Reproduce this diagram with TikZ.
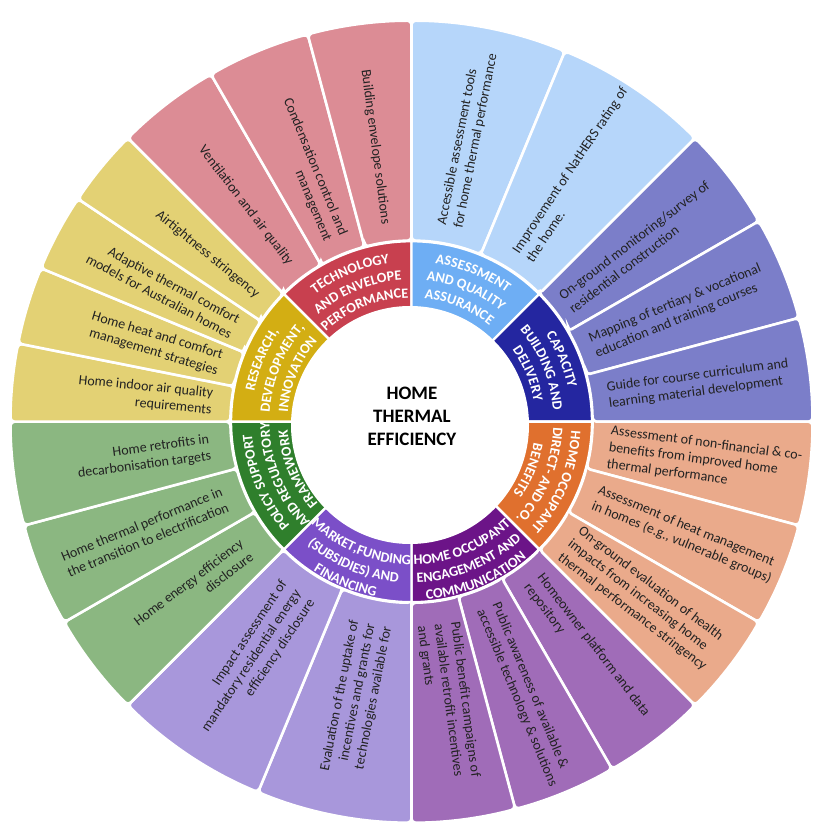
\documentclass[tikz,border=0pt]{standalone}
\usepackage{fontspec}
\setmainfont{Carlito}
\usetikzlibrary{decorations.text}

\definecolor{techR}{HTML}{C8404F}\definecolor{techO}{HTML}{DC8C95}
\definecolor{assR}{HTML}{6EAEF4}\definecolor{assO}{HTML}{B6D6FA}
\definecolor{capR}{HTML}{2426A0}\definecolor{capO}{HTML}{7B7EC9}
\definecolor{orR}{HTML}{E0702E}\definecolor{orO}{HTML}{EAAA8B}
\definecolor{engR}{HTML}{6C1488}\definecolor{engO}{HTML}{A06CB8}
\definecolor{mktR}{HTML}{7B4FC8}\definecolor{mktO}{HTML}{A897DB}
\definecolor{polR}{HTML}{2F7F2C}\definecolor{polO}{HTML}{8BB781}
\definecolor{resR}{HTML}{D3AE13}\definecolor{resO}{HTML}{E3D174}
\definecolor{txtcol}{HTML}{222222}

\newcommand\ringfont{\fontsize{14.2}{16}\selectfont\bfseries}

% outer annular sector: colour, start, end
\newcommand\outsec[3]{\path[outsector, fill=#1] ({#2}:181) -- ({#2}:401) arc[start angle=#2, end angle=#3, radius=401] -- ({#3}:181) arc[start angle=#3, end angle=#2, radius=181] -- cycle;}
% inner ring sector
\newcommand\ringsec[3]{\path[ringsector, fill=#1] (0,0) -- ({#2}:180.5) arc[start angle=#2, end angle=#3, radius=180.5] -- cycle;}
% one line of curved label: radius, start, end, text
\newcommand\arcline[4]{\path[decorate, decoration={text along path, text format delimiters={|}{|}, text color=white, text align=center, text={|\ringfont|#4}}] ({#2}:#1) arc[start angle=#2, end angle=#3, radius=#1];}
% clockwise label (glyphs outward), three lines outer to inner
\newcommand\ringcw[4]{%
  \arcline{160}{#1+35}{#1-35}{#2}
  \arcline{142}{#1+35}{#1-35}{#3}
  \arcline{124}{#1+35}{#1-35}{#4}}
% counter-clockwise label (glyphs inward), three lines inner to outer
\newcommand\ringccw[4]{%
  \arcline{143}{#1-35}{#1+35}{#2}
  \arcline{161}{#1-35}{#1+35}{#3}
  \arcline{178.5}{#1-35}{#1+35}{#4}}
% outer item texts: name, mid angle, radius, text
\newcommand\rtxt[4]{\node[outtxt, anchor=west, align=left, rotate=#2] (#1) at ({#2}:#3) {#4};}
\newcommand\ltxt[4]{\node[outtxt, anchor=east, align=right, rotate=#2-180] (#1) at ({#2}:#3) {#4};}

\begin{document}
\begin{tikzpicture}[x=1pt, y=1pt,
  outsector/.style={draw=white, line width=2.6pt, rounded corners=4pt},
  ringsector/.style={draw=white, line width=2.4pt},
  outtxt/.style={font=\fontsize{14}{16.8}\selectfont, text=txtcol, inner sep=0pt},
  centretxt/.style={font=\fontsize{19}{23}\selectfont\bfseries, text=black, align=center, inner sep=0pt}]
\useasboundingbox (0,0) rectangle (829,836);
\begin{scope}[shift={(411.5,414.3)}]
% outer ring
\outsec{techO}{135}{120}\outsec{techO}{120}{105}\outsec{techO}{105}{90}
\outsec{assO}{90}{67.5}\outsec{assO}{67.5}{45}
\outsec{capO}{45}{30}\outsec{capO}{30}{15}\outsec{capO}{15}{0}
\outsec{orO}{0}{-15}\outsec{orO}{-15}{-30}\outsec{orO}{-30}{-45}
\outsec{engO}{-45}{-60}\outsec{engO}{-60}{-75}\outsec{engO}{-75}{-90}
\outsec{mktO}{-90}{-112.5}\outsec{mktO}{-112.5}{-135}
\outsec{polO}{-135}{-150}\outsec{polO}{-150}{-165}\outsec{polO}{-165}{-180}
\outsec{resO}{180}{168.75}\outsec{resO}{168.75}{157.5}\outsec{resO}{157.5}{146.25}\outsec{resO}{146.25}{135}
% inner ring
\ringsec{techR}{135}{90}
\ringsec{assR}{90}{45}
\ringsec{capR}{45}{0}
\ringsec{orR}{0}{-45}
\ringsec{engR}{-45}{-90}
\ringsec{mktR}{-90}{-135}
\ringsec{polR}{-135}{-180}
\ringsec{resR}{180}{135}
% centre disc
\fill[white] (-1.5,-3.3) circle[radius=119];
\node[centretxt] (centre) at (0.5,5.7) {HOME\\THERMAL\\EFFICIENCY};
% ring labels
\ringcw{112.5}{TECHNOLOGY}{AND ENVELOPE}{PERFORMANCE}
\ringcw{67.5}{ASSESSMENT}{AND QUALITY}{ASSURANCE}
\ringcw{22.5}{CAPACITY}{BUILDING AND}{DELIVERY}
\ringcw{-22.5}{HOME OCCUPANT}{DIRECT- AND CO.}{BENEFITS}
\ringccw{-67.5}{HOME OCCUPANT}{ENGAGEMENT AND}{COMMUNICATION}
\ringccw{-112.5}{MARKET,FUNDING}{(SUBSIDIES) AND}{FINANCING}
\ringcw{-157.5}{POLICY SUPPORT}{AND REGULATORY}{FRAMEWORK}
\ringcw{157.5}{RESEARCH,}{DEVELOPMENT,}{INNOVATION}
% outer texts
\ltxt{t1}{127.5}{199}{Ventilation and air quality}
\ltxt{t2}{112.5}{199}{Condensation control and\\management}
\ltxt{t3}{97.5}{199}{Building envelope solutions}
\rtxt{a1}{78.75}{199}{Accessible assessment tools\\for home thermal performance}
\rtxt{a2}{56.25}{199}{Improvement of NatHERS rating of\\the home.}
\rtxt{c1}{37.5}{194}{On-ground monitoring/survey of\\residential construction}
\rtxt{c2}{22.5}{196}{Mapping of tertiary \& vocational\\education and training courses}
\rtxt{c3}{7.5}{198}{Guide for course curriculum and\\learning material development}
\rtxt{o1}{-7.5}{199}{Assessment of non-financial \& co-\\benefits from improved home\\thermal performance}
\rtxt{o2}{-22.5}{199}{Assessment of heat management\\in homes (e.g., vulnerable groups)}
\rtxt{o3}{-37.5}{199}{On-ground evaluation of health\\impacts from increasing home\\thermal performance stringency}
\rtxt{e1}{-52.5}{200}{Homeowner platform and data\\repository}
\rtxt{e2}{-67.5}{200}{Public awareness of available \&\\accessible technology \& solutions}
\rtxt{e3}{-82.5}{204}{Public benefit campaigns of\\available retrofit incentives\\and grants}
\ltxt{m1}{-101.25}{206}{Evaluation of the uptake of\\incentives and grants for\\technologies available for}
\ltxt{m2}{-123.75}{204}{Impact assessment of\\mandatory residential energy\\efficiency disclosure}
\ltxt{p1}{-142.5}{208}{Home energy efficiency\\disclosure}
\ltxt{p2}{-157.5}{202}{Home thermal performance in\\the transition to electrification}
\ltxt{p3}{-172.5}{203}{Home retrofits in\\decarbonisation targets}
\ltxt{r1}{174.375}{200}{Home indoor air quality\\requirements}
\ltxt{r2}{163.125}{200}{Home heat and comfort\\management strategies}
\ltxt{r3}{151.875}{200}{Adaptive thermal comfort\\models for Australian homes}
\ltxt{r4}{140.625}{199}{Airtightness stringency}
\end{scope}
\end{tikzpicture}
\end{document}
